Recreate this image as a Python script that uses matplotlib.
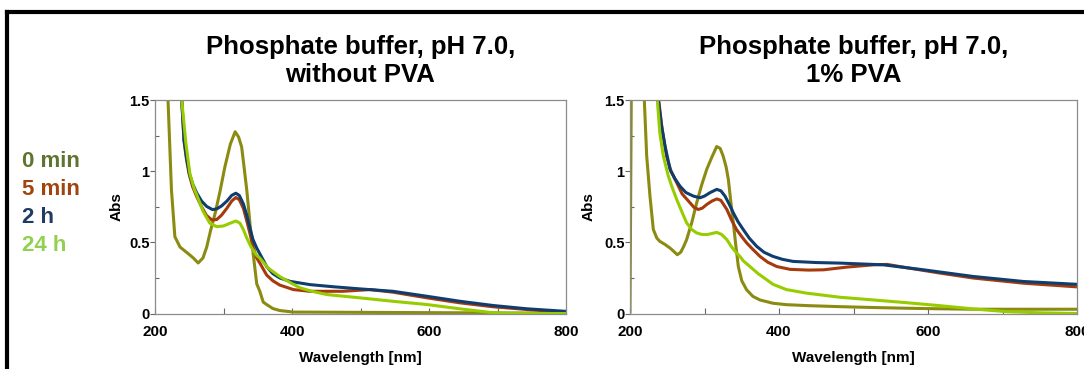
import matplotlib
matplotlib.use("Agg")
import matplotlib.pyplot as plt
from matplotlib.lines import Line2D
from matplotlib.ticker import MultipleLocator, FixedLocator

plt.rcParams['font.family'] = ['Liberation Sans', 'DejaVu Sans']

# ---------------- data ----------------
series_names = ["0 min", "5 min", "2 h", "24 h"]
line_colors = ["#8b8b12", "#a63a0c", "#0f3d6e", "#96cc00"]
text_colors = ["#5e7430", "#a0450f", "#1f3b63", "#92d050"]

titles = ["Phosphate buffer, pH 7.0,\nwithout PVA", "Phosphate buffer, pH 7.0,\n1% PVA"]

# Left panel: without PVA
L_0min_wl = [216, 219, 224, 229, 236.5, 248.6, 256, 263, 270, 275.5, 281, 287.6, 295, 302, 310, 317, 322,
             326.5, 330, 334, 341, 348.5, 353, 358, 363, 372, 382, 402, 500, 600, 700, 800]
L_0min_ab = [1.8, 1.5, 0.87, 0.54, 0.467, 0.42, 0.39, 0.355, 0.39, 0.467, 0.58, 0.70, 0.86, 1.03, 1.19, 1.277, 1.24,
             1.17, 1.03, 0.866, 0.514, 0.209, 0.156, 0.08, 0.063, 0.035, 0.021, 0.01, 0.008, 0.006, 0.004, 0.003]

L_5min_wl = [236, 239, 242.4, 246, 250, 255, 261, 268, 275, 283, 290, 297, 305, 312, 318, 323, 329, 334,
             338.7, 343, 348.5, 353, 363, 372, 382, 402, 426, 474, 514, 547, 597, 645, 694, 743, 800]
L_5min_ab = [1.7, 1.5, 1.21, 1.08, 0.975, 0.89, 0.82, 0.75, 0.69, 0.657, 0.66, 0.69, 0.74, 0.79, 0.815, 0.80, 0.74, 0.65,
             0.56, 0.47, 0.39, 0.355, 0.27, 0.23, 0.20, 0.168, 0.156, 0.156, 0.168, 0.15, 0.11, 0.075, 0.047, 0.028, 0.009]

L_2h_wl = [236, 239, 242.4, 246, 250, 255, 261, 268, 275.5, 284, 290, 297, 305, 312, 318, 323, 329, 334,
           338.7, 343, 348.5, 353, 363, 372, 382, 397, 426, 460, 499, 547.5, 597, 645, 694, 743, 800]
L_2h_ab = [1.7, 1.5, 1.22, 1.1, 0.987, 0.91, 0.846, 0.79, 0.752, 0.73, 0.735, 0.755, 0.79, 0.83, 0.845, 0.83, 0.77, 0.69,
           0.60, 0.52, 0.46, 0.42, 0.33, 0.28, 0.25, 0.226, 0.203, 0.188, 0.173, 0.156, 0.121, 0.086, 0.056, 0.033, 0.015]

L_24h_wl = [237, 239, 245, 251, 257, 262, 270, 280, 290, 300, 310, 318, 324, 329, 334, 340, 348, 353, 365,
            382, 400, 412, 430, 451, 499, 547, 597, 645, 694, 720, 800]
L_24h_ab = [1.6, 1.5, 1.2, 0.98, 0.88, 0.82, 0.72, 0.635, 0.61, 0.615, 0.635, 0.65, 0.635, 0.59, 0.53, 0.47, 0.41, 0.39, 0.32,
            0.26, 0.21, 0.18, 0.155, 0.133, 0.11, 0.086, 0.063, 0.033, 0.005, 0.0, 0.0]

# Right panel: 1% PVA
R_0min_wl = [200, 202, 217, 219.2, 222.4, 226.8, 231.3, 236, 240, 247, 253.7, 258, 263.5, 268, 272, 276, 283, 289.5,
             296, 303, 310, 316.4, 321, 325, 329, 332, 335, 338.7, 342, 345.4, 350, 356.6, 365, 374.5, 392, 410,
             440, 482, 527, 571, 616, 660, 730, 800]
R_0min_ab = [0.0, 1.8, 1.8, 1.5, 1.107, 0.825, 0.59, 0.53, 0.507, 0.485, 0.46, 0.44, 0.413, 0.43, 0.47, 0.519, 0.64, 0.778,
             0.90, 1.013, 1.10, 1.173, 1.16, 1.107, 1.03, 0.942, 0.80, 0.637, 0.48, 0.33, 0.23, 0.166, 0.12, 0.095, 0.072, 0.062,
             0.055, 0.048, 0.042, 0.037, 0.033, 0.03, 0.03, 0.03]

R_5min_wl = [236, 238.5, 243, 249, 255, 262.7, 270, 280.5, 286, 291.7, 297, 303, 310, 316.4, 322, 330, 336, 343,
             350, 356.6, 365, 374.5, 385, 397, 415, 440, 460, 491, 527, 545, 571, 616, 661, 728, 800]
R_5min_ab = [1.6, 1.5, 1.3, 1.107, 1.0, 0.919, 0.84, 0.778, 0.745, 0.731, 0.74, 0.766, 0.79, 0.805, 0.795, 0.731, 0.66, 0.59,
             0.54, 0.496, 0.45, 0.401, 0.36, 0.33, 0.31, 0.305, 0.307, 0.326, 0.342, 0.345, 0.322, 0.284, 0.249, 0.213, 0.187]

R_2h_wl = [236, 238, 242, 247, 253.7, 260, 267, 275, 285, 294, 300, 307.4, 316.4, 322, 327.5, 333, 338.7, 345,
           352, 360, 370, 380, 392, 405, 419, 450, 482, 540, 594, 661, 728, 800]
R_2h_ab = [1.6, 1.5, 1.33, 1.178, 1.013, 0.95, 0.895, 0.85, 0.825, 0.813, 0.825, 0.849, 0.872, 0.862, 0.825, 0.77, 0.707, 0.645,
           0.59, 0.53, 0.472, 0.43, 0.401, 0.38, 0.366, 0.358, 0.354, 0.342, 0.307, 0.26, 0.225, 0.205]

R_24h_wl = [235, 236.7, 240, 244.7, 251.4, 257, 262.7, 270, 276, 283, 289.5, 296, 303, 310, 316.4, 323, 330, 336,
            343, 347.6, 352, 361, 372, 383.5, 392, 410, 437, 482, 527, 571, 616, 661, 705, 750, 800]
R_24h_ab = [1.6, 1.5, 1.27, 1.107, 0.966, 0.88, 0.801, 0.71, 0.637, 0.59, 0.566, 0.556, 0.554, 0.562, 0.57, 0.555, 0.519, 0.47,
            0.425, 0.401, 0.37, 0.33, 0.28, 0.237, 0.205, 0.168, 0.143, 0.114, 0.095, 0.076, 0.055, 0.032, 0.013, 0.005, 0.0]

panels = [
    [(L_0min_wl, L_0min_ab), (L_5min_wl, L_5min_ab), (L_2h_wl, L_2h_ab), (L_24h_wl, L_24h_ab)],
    [(R_0min_wl, R_0min_ab), (R_5min_wl, R_5min_ab), (R_2h_wl, R_2h_ab), (R_24h_wl, R_24h_ab)],
]
draw_order = [0, 1, 2, 3]

x_ticks = [200, 400, 600, 800]
y_ticks = [0, 0.5, 1, 1.5]
y_ticklabels = ["0", "0.5", "1", "1.5"]

# ---------------- figure ----------------
W, H = 1084, 369
fig = plt.figure(figsize=(W / 100, H / 100), dpi=100)

axes_px = [(155, 566), (630, 1077)]
top_px, bot_px = 100, 313.5

for i, (x0, x1) in enumerate(axes_px):
    ax = fig.add_axes([x0 / W, 1 - bot_px / H, (x1 - x0) / W, (bot_px - top_px) / H])
    for k in draw_order:
        wl, ab = panels[i][k]
        ax.plot(wl, ab, color=line_colors[k], lw=2.2, solid_capstyle='butt')
    ax.set_xlim(200, 800)
    ax.set_ylim(0, 1.5)
    for s in ax.spines.values():
        s.set_color("#8c8c8c")
        s.set_linewidth(0.9)
    ax.xaxis.set_major_locator(FixedLocator(x_ticks))
    ax.xaxis.set_minor_locator(MultipleLocator(100))
    ax.set_yticks(y_ticks)
    ax.set_yticklabels(y_ticklabels)
    ax.yaxis.set_minor_locator(MultipleLocator(0.25))
    ax.tick_params(axis='x', which='both', direction='in', length=4, width=0.8, color="#666666",
                   labelsize=11, pad=8.5, top=False)
    ax.tick_params(axis='y', which='major', direction='out', length=3.5, width=0.8, color="#666666",
                   labelsize=10.5, pad=0.5, right=False)
    ax.tick_params(axis='y', which='minor', direction='in', length=3, width=0.8, color="#666666", right=False)
    for lab in ax.get_xticklabels() + ax.get_yticklabels():
        lab.set_fontweight('bold')
    ax.set_ylabel("Abs", fontsize=11, fontweight='bold')
    ax.yaxis.set_label_coords(-0.077, 0.5)
    ax.set_xlabel("Wavelength [nm]", fontsize=11, fontweight='bold')
    ax.xaxis.set_label_coords(0.5, -0.175)
    ax.set_title(titles[i], fontsize=18.5, fontweight='bold', pad=13)

# legend as coloured text
for k, name in enumerate(series_names):
    fig.text(22 / W, 1 - (167 + 28 * k) / H, name, color=text_colors[k], fontsize=16,
             fontweight='bold', ha='left', va='baseline')

# black frame (top and left edges visible)
fx = 7 / W
fy = 1 - 12 / H
fig.add_artist(Line2D([fx, 1.01], [fy, fy], transform=fig.transFigure, color='black', lw=3, solid_capstyle='projecting'))
fig.add_artist(Line2D([fx, fx], [fy, -0.01], transform=fig.transFigure, color='black', lw=3, solid_capstyle='projecting'))

fig.savefig("out.png", dpi=100)
